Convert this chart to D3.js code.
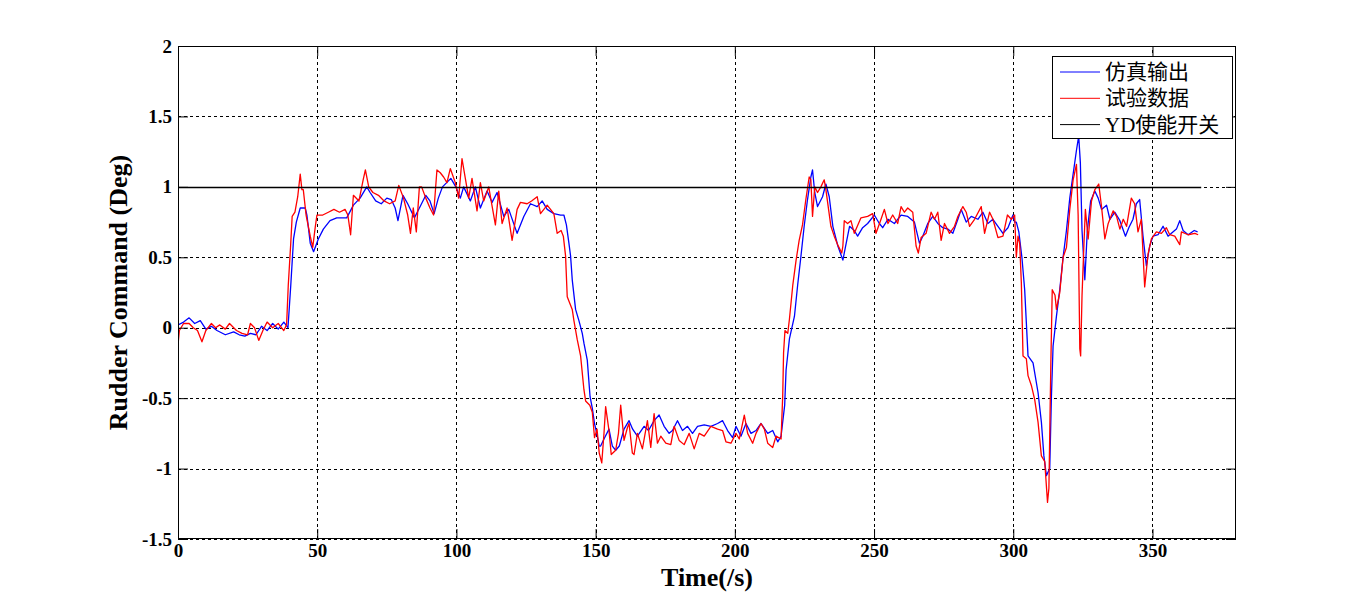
<!DOCTYPE html>
<html><head><meta charset="utf-8">
<script src="https://cdn.jsdelivr.net/npm/d3@7/dist/d3.min.js"></script>
<style>body{margin:0;background:#fff}svg{display:block}</style>
</head><body><svg id="c" width="1367" height="608"></svg>
<script>
const xTicks = [0,50,100,150,200,250,300,350];
const yTicks = [-1.5,-1,-0.5,0,0.5,1,1.5,2];
const seriesNames = ["仿真输出","试验数据","YD使能开关"];
const seriesColors = ["#0000ff","#ff0000","#000000"];

// 仿真输出 (simulation output): [time, value]
const simData = [
[0,0.02],[2,0.04],[4,0.07],[6,0.03],[8,0.05],[10,-0.01],[12,0.01],[14,-0.02],[17,-0.05],[20,-0.03],[22,-0.05],[24,-0.06],[26,-0.04],[28,-0.05],[30,0.01],[32,-0.02],[34,0.03],[36,-0.01],[38,0.04],[39.5,0.0],
[40.5,0.3],[41.5,0.63],[42.5,0.75],[43.9,0.85],[45.7,0.85],[46.3,0.8],[47.5,0.6],[48.7,0.54],[50.4,0.63],[52.2,0.7],[54.6,0.76],[57,0.78],[60.6,0.78],[63,0.87],[65.4,0.92],[67.8,1.0],[69,0.96],[71,0.9],[73,0.88],[75,0.92],[76.6,0.91],[78,0.85],[79,0.76],[80.8,0.94],[82.5,0.88],[84.9,0.78],[86.7,0.85],[89,0.94],[90.5,0.9],[92,0.81],[93.5,0.92],[95,1.0],[98,1.06],[99.8,1.0],
[101.4,0.92],[102.6,1.0],[105,0.9],[106.8,1.0],[108.6,0.85],[111,0.97],[112.8,0.89],[114.6,0.96],[117,0.79],[118.8,0.84],[121.8,0.67],[124.2,0.79],[126.6,0.88],[129,0.86],[130.8,0.9],[132.6,0.84],[135,0.81],[137.4,0.8],[138.6,0.8],[139.5,0.73],[140.4,0.6],[141,0.51],[141.6,0.34],[142.8,0.13],[144,0.05],[145.2,-0.04],[145.8,-0.11],[147,-0.23],[148,-0.49],[148.8,-0.57],[149.6,-0.68],[150.4,-0.75],[151.3,-0.84],[151.8,-0.84],
[153,-0.79],[154.8,-0.72],[156,-0.84],[157.2,-0.87],[158.5,-0.84],[160.2,-0.72],[162,-0.66],[163.3,-0.72],[165,-0.77],[167.4,-0.7],[169,-0.73],[171,-0.66],[172.8,-0.62],[174.6,-0.7],[176.4,-0.75],[177.6,-0.73],[179.4,-0.66],[181.2,-0.73],[183,-0.7],[184.8,-0.75],[186.6,-0.7],[189,-0.69],[191.4,-0.7],[193.8,-0.68],[195.6,-0.66],[197.4,-0.73],[199.2,-0.78],[200.4,-0.7],[202.2,-0.77],[204,-0.68],[205.8,-0.75],[207.6,-0.73],[209.4,-0.68],[211.8,-0.75],[213.6,-0.73],[215.4,-0.81],[216.6,-0.77],
[217.9,-0.55],[218.4,-0.3],[219.6,-0.08],[221.4,0.08],[222.6,0.31],[223.7,0.5],[224.9,0.72],[226.1,0.91],[227.3,1.07],[227.9,1.12],[228.7,0.96],[229.7,0.86],[231.5,0.93],[232.7,1.02],[233.9,0.93],[235.2,0.72],[237,0.58],[238.8,0.48],[240,0.6],[241.2,0.72],[242.9,0.69],[244.1,0.65],[245.9,0.71],[247.7,0.74],[250.1,0.8],[251.9,0.74],[253.1,0.71],[255,0.77],[257.3,0.74],[259.7,0.8],[262.1,0.79],[264.5,0.75],[266.3,0.6],[267.5,0.65],[269.3,0.74],[271.1,0.79],[272.9,0.74],[274.7,0.71],[276.5,0.7],[278.3,0.67],[280.1,0.77],[281.3,0.84],[283.1,0.75],[284.9,0.79],[287.3,0.77],[289.1,0.82],[290.9,0.74],[292.7,0.77],[294.5,0.72],[296.3,0.67],[298.1,0.71],[299.9,0.8],[300.5,0.75],[301.1,0.75],[302,0.68],
[303.1,0.5],[304.1,0.27],[305.3,-0.2],[307.1,-0.25],[308.9,-0.46],[310.1,-0.67],[311,-0.91],[311.9,-1.05],[313.1,-1.0],[313.7,-0.49],[314.3,-0.13],[315.5,0.08],[316.7,0.27],[317.9,0.5],[319.1,0.69],[320.3,0.92],[321.5,1.09],[322.7,1.26],[323.5,1.36],[324.1,1.17],[324.7,0.69],[325.7,0.34],[326.6,0.69],[327.8,0.9],[329.3,0.97],[330.5,0.92],[331.7,0.84],[333.5,0.87],[334.7,0.77],[336.5,0.82],[338.3,0.76],[340.3,0.65],[341.5,0.71],[343,0.77],[344.2,0.88],[345.4,0.91],[346.6,0.65],[347.8,0.44],[349,0.58],[350.2,0.65],[352,0.66],[353.8,0.72],[355.6,0.65],[356.8,0.67],[358.6,0.7],[359.8,0.76],[361,0.69],[362.8,0.66],[365,0.69],[366.2,0.68]
];

// 试验数据 (test data): [time, value]
const expData = [
[0,-0.12],[0.5,-0.02],[2,0.03],[4,0.03],[5.5,0.0],[7,-0.02],[8.6,-0.1],[10,-0.02],[12,0.03],[13.5,0.0],[15,0.02],[17,-0.01],[18.5,0.03],[21,-0.02],[23,-0.04],[25,-0.05],[26,0.03],[27.5,0.0],[29,-0.09],[30.5,-0.02],[32,0.04],[34,0.0],[36,0.03],[38,-0.02],[39,0.02],
[39.6,0.3],[40.5,0.6],[41,0.79],[42,0.82],[43,0.93],[43.9,1.09],[44.5,0.98],[45,0.98],[46,0.8],[47.5,0.65],[48.4,0.57],[49.2,0.7],[49.9,0.8],[52,0.8],[54,0.82],[56,0.84],[58,0.82],[60,0.84],[61,0.8],[62,0.66],[63,0.94],[65,0.9],[66.5,1.05],[67.3,1.12],[68.5,1.0],[70,0.96],[72,0.94],[74,0.9],[76,0.88],[78,0.9],[79.3,1.01],[81,0.92],[82.5,0.8],[83.5,0.67],[84.5,0.85],[85.6,0.68],[86.7,1.0],[87.5,1.0],[89,0.92],[90.5,0.85],[91.8,0.8],[93,1.12],[94.2,1.1],[95.4,1.07],[96.6,1.03],[97.8,1.13],[99.6,1.03],
[100.8,0.92],[102,1.2],[103.2,1.06],[104.4,0.92],[105.6,1.06],[107.4,0.83],[108.6,1.03],[109.8,0.9],[111.6,1.0],[114,0.73],[115.2,0.97],[116.4,0.74],[118.2,0.85],[120,0.62],[121.8,0.84],[123,0.89],[125.4,0.88],[127,0.9],[129,0.93],[130.2,0.81],[132.6,0.87],[135,0.81],[136.2,0.67],[137.6,0.69],[138.4,0.65],[139.2,0.51],[139.8,0.22],[141.6,0.13],[142.2,0.05],[143.4,-0.085],[144.6,-0.2],[145.8,-0.44],[146.4,-0.52],[147.9,-0.55],[148.8,-0.6],[149.6,-0.78],[150.5,-0.72],[151.3,-0.89],[152.2,-0.96],
[153,-0.75],[153.6,-0.56],[154.8,-0.73],[155.6,-0.9],[157.2,-0.87],[158.2,-0.75],[159,-0.55],[160.2,-0.8],[161.4,-0.71],[162,-0.68],[163.2,-0.89],[163.8,-0.9],[165,-0.75],[166.8,-0.86],[168.6,-0.66],[169.8,-0.85],[171,-0.61],[172.2,-0.82],[173.4,-0.77],[175.2,-0.82],[177,-0.83],[178.2,-0.7],[180,-0.8],[181.8,-0.83],[183.6,-0.75],[185.4,-0.86],[187.2,-0.75],[189,-0.77],[191.4,-0.7],[193.8,-0.72],[195.6,-0.73],[196.8,-0.81],[198.6,-0.82],[200.4,-0.75],[201.6,-0.79],[203.4,-0.62],[204.6,-0.75],[206.4,-0.82],[207.6,-0.75],[209.4,-0.68],[210.6,-0.72],[211.8,-0.82],[213.6,-0.85],[214.8,-0.77],[216.6,-0.79],
[217.2,-0.48],[217.5,-0.18],[218,-0.02],[219,-0.04],[219.6,0.06],[220.8,0.3],[222,0.48],[223.1,0.62],[224.3,0.73],[225.5,0.91],[226.7,1.07],[227.3,1.05],[227.9,0.79],[228.7,1.0],[229.7,0.96],[230.9,1.0],[232.1,1.05],[232.7,0.98],[234.5,0.72],[235.7,0.65],[236.9,0.59],[238.4,0.53],[238.8,0.58],[239.3,0.76],[240.5,0.74],[241.7,0.76],[242.9,0.67],[245.3,0.78],[247.7,0.79],[249.5,0.81],[250.7,0.67],[252.5,0.77],[253.7,0.84],[255,0.74],[256.7,0.8],[258.5,0.74],[259.7,0.86],[260.9,0.82],[262.1,0.85],[263.9,0.82],[265.1,0.58],[265.9,0.53],[266.9,0.64],[268.7,0.67],[270.5,0.82],[271.7,0.77],[272.9,0.82],[274.1,0.62],[275.3,0.74],[277.1,0.67],[278.9,0.72],[280.1,0.79],[281.9,0.86],[283.1,0.82],[284.3,0.72],[286.1,0.77],[288.5,0.86],[289.7,0.67],[291.5,0.82],[292.7,0.77],[294.5,0.64],[296.3,0.65],[297.9,0.8],[299.3,0.77],[300.5,0.8],[301.1,0.5],[301.7,0.65],[302.3,0.6],
[302.9,0.32],[303.5,-0.2],[304.7,-0.22],[305.3,-0.34],[306.5,-0.41],[307.7,-0.51],[308.9,-0.67],[310.1,-0.91],[311.3,-0.95],[312.3,-1.24],[312.8,-1.14],[313.5,-0.25],[314,0.27],[315,0.23],[315.5,0.13],[316.7,0.25],[317.9,0.5],[319.1,0.57],[320.3,0.84],[321.5,1.05],[322.7,1.16],[323.3,0.8],[323.9,-0.15],[324.2,-0.2],[324.7,0.23],[325.4,0.6],[325.9,0.84],[326.9,0.63],[328.1,0.9],[329.3,0.98],[330.7,1.02],[331.7,0.86],[332.9,0.63],[334.1,0.74],[335.9,0.83],[337.1,0.79],[338.3,0.7],[339.5,0.77],[340.7,0.72],[342.4,0.92],[343.6,0.88],[344.8,0.68],[346,0.77],[347.2,0.29],[348.4,0.52],[349.6,0.63],[351.4,0.68],[353.2,0.67],[355,0.71],[356.2,0.66],[358,0.65],[359.8,0.59],[360.4,0.68],[362.8,0.66],[365.2,0.67],[366.4,0.66]
];

// YD使能开关 (YD enable switch)
const ydData = [[0,1],[367.5,1]];

const svg = d3.select("#c");
const L = 178, R = 1236, T = 46, B = 539;
const x = d3.scaleLinear().domain([0,380]).range([L,R]);
const y = d3.scaleLinear().domain([-1.5,2]).range([B,T]);
const serif = "'Liberation Serif','Times New Roman',serif";

// grid
const gridStyle = g=>{g.select(".domain").remove();g.selectAll("line").attr("stroke","#000").attr("stroke-dasharray","3,3").attr("shape-rendering","crispEdges");};
svg.append("g").attr("transform",`translate(0,${B})`)
  .call(d3.axisBottom(x).tickValues(xTicks).tickSize(-(B-T)).tickFormat("")).call(gridStyle);
svg.append("g").attr("transform",`translate(${L},0)`)
  .call(d3.axisLeft(y).tickValues(yTicks).tickSize(-(R-L)).tickFormat("")).call(gridStyle);

// lines
svg.append("clipPath").attr("id","clip").append("rect").attr("x",L).attr("y",T).attr("width",R-L).attr("height",B-T);
const line = d3.line().x(d=>x(d[0])).y(d=>y(d[1]));
const plot = svg.append("g").attr("clip-path","url(#clip)");
[simData,expData].forEach((d,i)=>{
  plot.append("path").datum(d).attr("d",line).attr("fill","none")
    .attr("stroke",seriesColors[i]).attr("stroke-width",1.3).attr("stroke-linejoin","round");
});
// YD line drawn as a crisp 1px line on the same pixel row as the grid
plot.append("path").datum(ydData)
  .attr("d",d3.line().x(d=>x(d[0])).y(d=>Math.round(y(d[1]))+0.5))
  .attr("fill","none").attr("stroke",seriesColors[2]).attr("stroke-width",1.4);

// axes with inward ticks
const fmt = d=>String(d).replace("\u2212","-");
const styleAx = g=>{g.select(".domain").remove();g.selectAll("line").attr("stroke","#000");
  g.selectAll("text").attr("font-family",serif).attr("font-weight","bold").attr("font-size",19).attr("fill","#000");};
svg.append("g").attr("transform",`translate(0,${B})`)
  .call(d3.axisBottom(x).tickValues(xTicks).tickSizeInner(-10).tickSizeOuter(0).tickPadding(5).tickFormat(fmt)).call(styleAx);
svg.append("g").attr("transform",`translate(0,${T})`)
  .call(d3.axisTop(x).tickValues(xTicks).tickSizeInner(-10).tickSizeOuter(0).tickFormat("")).call(styleAx);
svg.append("g").attr("transform",`translate(${L},0)`)
  .call(d3.axisLeft(y).tickValues(yTicks).tickSizeInner(-10).tickSizeOuter(0).tickPadding(6).tickFormat(fmt)).call(styleAx);
svg.append("g").attr("transform",`translate(${R},0)`)
  .call(d3.axisRight(y).tickValues(yTicks).tickSizeInner(-10).tickSizeOuter(0).tickFormat("")).call(styleAx);
svg.append("rect").attr("x",L+0.5).attr("y",T+0.5).attr("width",R-L-1).attr("height",B-T-1)
  .attr("fill","none").attr("stroke","#000").attr("stroke-width",1);

// axis labels
svg.append("text").attr("x",(L+R)/2).attr("y",586).attr("text-anchor","middle")
  .attr("font-family",serif).attr("font-weight","bold").attr("font-size",26).text("Time(/s)");
svg.append("text").attr("transform",`translate(127,${(T+B)/2}) rotate(-90)`).attr("text-anchor","middle")
  .attr("font-family",serif).attr("font-weight","bold").attr("font-size",26).text("Rudder Command (Deg)");

// legend
const lg = svg.append("g");
lg.append("rect").attr("x",1052.5).attr("y",56.5).attr("width",180).attr("height",82)
  .attr("fill","#fff").attr("stroke","#000").attr("stroke-width",1);
seriesNames.forEach((n,i)=>{
  const yy = 72 + i*26.3;
  lg.append("line").attr("x1",1060).attr("x2",1100).attr("y1",yy).attr("y2",yy)
    .attr("stroke",seriesColors[i]).attr("stroke-width",1);
  lg.append("text").attr("x",1105).attr("y",yy+7).attr("font-family",serif+",'Noto Sans CJK SC'")
    .attr("font-size",21).attr("fill","#000").text(n);
});
</script></body></html>
